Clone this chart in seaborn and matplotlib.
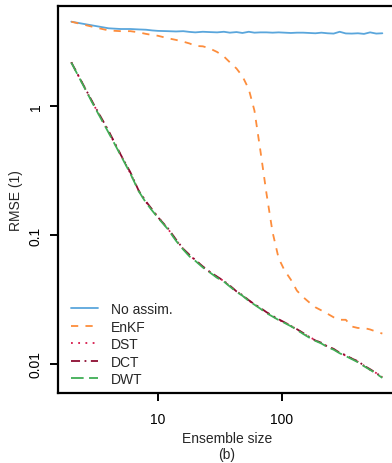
import numpy as np
import pandas as pd
import matplotlib
matplotlib.use("Agg")
import matplotlib.pyplot as plt
import seaborn as sns

# Ensemble sizes (shared x values)
ensemble_size = [2, 3, 4, 5, 6, 7, 8, 9, 10, 12, 14, 16, 18, 20, 23, 26, 30, 34, 38, 43,
                 48, 54, 60, 67, 75, 84, 94, 105, 118, 132, 148, 166, 186, 208, 233, 261,
                 292, 327, 366, 410, 459, 514, 576, 645]

no_assim = [4.5, 4.2, 4.0, 3.95, 3.95, 3.92, 3.9, 3.85, 3.82, 3.8, 3.78, 3.8, 3.75, 3.72,
            3.76, 3.74, 3.72, 3.76, 3.7, 3.74, 3.68, 3.76, 3.7, 3.72, 3.72, 3.7, 3.72, 3.7,
            3.68, 3.7, 3.7, 3.68, 3.66, 3.7, 3.66, 3.64, 3.76, 3.65, 3.64, 3.66, 3.62, 3.72,
            3.64, 3.66]

enkf = [4.5, 4.1, 3.85, 3.8, 3.8, 3.72, 3.62, 3.55, 3.5, 3.35, 3.25, 3.15, 3.05, 2.92,
        2.9, 2.8, 2.62, 2.42, 2.18, 1.95, 1.7, 1.35, 0.92, 0.45, 0.21, 0.105, 0.066, 0.053,
        0.045, 0.037, 0.033, 0.030, 0.0275, 0.026, 0.0245, 0.023, 0.022, 0.022, 0.0195,
        0.019, 0.019, 0.0185, 0.0178, 0.0172]

dst = [2.18, 1.04, 0.63, 0.42, 0.30, 0.22, 0.18, 0.156, 0.138, 0.112, 0.091, 0.078, 0.069,
       0.064, 0.0565, 0.052, 0.047, 0.044, 0.040, 0.0366, 0.034, 0.031, 0.029, 0.027, 0.025,
       0.0235, 0.022, 0.021, 0.0198, 0.0185, 0.0172, 0.0162, 0.0153, 0.0145, 0.0137, 0.013,
       0.0122, 0.0116, 0.011, 0.0104, 0.0097, 0.009, 0.0085, 0.0079]

dct = [2.18, 1.05, 0.64, 0.42, 0.305, 0.22, 0.182, 0.157, 0.137, 0.113, 0.092, 0.078, 0.070,
       0.064, 0.057, 0.052, 0.0475, 0.044, 0.0405, 0.0365, 0.0342, 0.0312, 0.029, 0.0272,
       0.0252, 0.0236, 0.0222, 0.021, 0.0197, 0.0186, 0.0174, 0.0162, 0.0152, 0.0146,
       0.0136, 0.0131, 0.0122, 0.0117, 0.011, 0.0105, 0.0097, 0.0091, 0.0085, 0.0079]

dwt = [2.17, 1.03, 0.62, 0.415, 0.298, 0.218, 0.178, 0.154, 0.136, 0.111, 0.090, 0.077,
       0.068, 0.063, 0.056, 0.0515, 0.0465, 0.0435, 0.0398, 0.0362, 0.0338, 0.0308, 0.0288,
       0.0268, 0.0248, 0.0233, 0.0219, 0.0208, 0.0196, 0.0184, 0.0171, 0.016, 0.0151,
       0.0144, 0.0135, 0.0129, 0.0121, 0.0115, 0.0109, 0.0103, 0.0096, 0.009, 0.0084,
       0.0078]

series_names = ["No assim.", "EnKF", "DST", "DCT", "DWT"]
series_values = [no_assim, enkf, dst, dct, dwt]
series_colors = ["#5aa6dc", "#fd8d3c", "#d7194b", "#8c0c30", "#3fae55"]
series_dashes = ["-", (0, (4, 4)), (0, (1, 3)), (0, (5, 2.5, 1, 2.5)), (0, (7, 3))]

df = pd.concat(
    [pd.DataFrame({"ensemble": ensemble_size, "rmse": vals, "method": name})
     for name, vals in zip(series_names, series_values)],
    ignore_index=True,
)

sns.set_theme(style="ticks")
plt.rcParams["font.family"] = ["Liberation Sans", "DejaVu Sans"]

fig = plt.figure(figsize=(3.92, 4.64), dpi=100)
ax = fig.add_axes([0.148, 0.151, 0.862, 0.834])

for name, color, dash in zip(series_names, series_colors, series_dashes):
    sns.lineplot(
        data=df[df["method"] == name],
        x="ensemble",
        y="rmse",
        color=color,
        linestyle=dash,
        linewidth=1.3,
        label=name,
        ax=ax,
    )

ax.set_xscale("log")
ax.set_yscale("log")
ax.set_xlim(1.563, 830)
ax.set_ylim(0.00596, 5.96)

ax.set_xticks([10, 100])
ax.set_xticklabels(["10", "100"])
ax.set_yticks([0.01, 0.1, 1])
ax.set_yticklabels(["0.01", "0.1", "1"], rotation=90, va="center")
ax.minorticks_off()
ax.tick_params(axis="both", which="major", direction="out", length=6, width=1.4,
               labelsize=10, color="black", labelcolor="black")
ax.tick_params(axis="x", pad=8)
ax.tick_params(axis="y", pad=5)

for side in ["left", "bottom", "top", "right"]:
    ax.spines[side].set_visible(True)
    ax.spines[side].set_linewidth(1.6)
    ax.spines[side].set_color("black")

ax.set_xlabel("Ensemble size\n(b)", fontsize=10, labelpad=3, linespacing=1.25)
ax.set_ylabel("RMSE (1)", fontsize=10, labelpad=4)

ax.legend(
    loc="lower left",
    bbox_to_anchor=(0.0, -0.015),
    frameon=False,
    fontsize=10,
    handlelength=2.0,
    handletextpad=0.9,
    labelspacing=0.25,
)

fig.savefig("out.png", dpi=100)
